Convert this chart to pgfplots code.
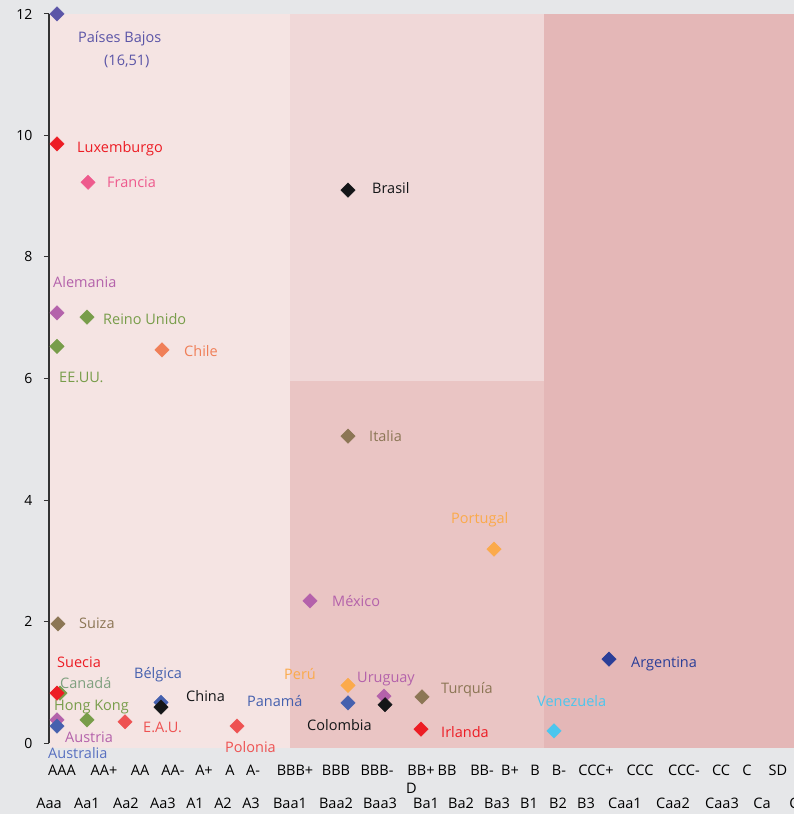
\documentclass[border=0pt]{standalone}
\usepackage{fontspec}
\setmainfont{Open Sans}
\usepackage{pgfplots}
\pgfplotsset{compat=1.18}
\definecolor{bgc}{HTML}{E6E7E9}
\definecolor{rA}{HTML}{F5E4E3}
\definecolor{rBu}{HTML}{F0D8D8}
\definecolor{rBl}{HTML}{EAC5C4}
\definecolor{rC}{HTML}{E4B7B7}
\definecolor{cNL}{HTML}{5B55A7}
\definecolor{cRed}{HTML}{ED1C24}
\definecolor{cPink}{HTML}{EE5A8D}
\definecolor{cPurp}{HTML}{B462AB}
\definecolor{cGreen}{HTML}{789D4A}
\definecolor{cCan}{HTML}{7FA07F}
\definecolor{cOrange}{HTML}{F07F58}
\definecolor{cBlack}{HTML}{141618}
\definecolor{cBrown}{HTML}{8C7655}
\definecolor{cYel}{HTML}{FBAA4B}
\definecolor{cNavy}{HTML}{2A3E98}
\definecolor{cBlue}{HTML}{4560AE}
\definecolor{cAus}{HTML}{5870C0}
\definecolor{cCyan}{HTML}{4BC6EE}
\definecolor{cRed2}{HTML}{EE5252}
\definecolor{axc}{HTML}{333333}
\pgfplotsset{pt/.style={only marks, mark=square*, mark size=5.1bp, mark options={rotate=45, draw=#1, fill=#1}, color=#1}}
\newcommand{\lab}{\fontsize{14.5bp}{16bp}\selectfont}
\begin{document}
\begin{tikzpicture}
\fill[bgc] (-49bp,-66bp) rectangle (745bp,748bp);
\begin{axis}[
  at={(0,0)}, anchor=south west,
  scale only axis, width=745bp, height=748bp,
  xmin=49, xmax=794, ymin=-0.082, ymax=12.23,
  clip=false,
  axis x line=none,
  axis y line*=left,
  y axis line style={draw=none},
  ytick={0,2,4,6,8,10,12},
  tick align=outside,
  major tick length=5bp,
  major tick style={axc, line width=1bp},
  /pgf/number format/assume math mode=true,
  yticklabel style={font=\fontsize{14bp}{16bp}\selectfont, text=black, xshift=-8bp},
]
% rating bands
\fill[rA]  (axis cs:50,-0.082) rectangle (axis cs:290,12);
\fill[rBu] (axis cs:290,5.96) rectangle (axis cs:544,12);
\fill[rBl] (axis cs:290,-0.082) rectangle (axis cs:544,5.96);
\fill[rC]  (axis cs:544,-0.082) rectangle (axis cs:794,12);
\draw[axc, line width=1.3bp] (axis cs:49,0) -- (axis cs:49,12);

% countries (x = rating position, y = value)
\addplot[pt=cNL] coordinates {(57,12.0)};
\addplot[pt=cRed] coordinates {(57,9.86)};
\addplot[pt=cPink] coordinates {(88,9.23)};
\addplot[pt=cPurp] coordinates {(57,7.08)};
\addplot[pt=cGreen] coordinates {(87,7.01)};
\addplot[pt=cGreen] coordinates {(57,6.53)};
\addplot[pt=cOrange] coordinates {(162,6.47)};
\addplot[pt=cBlack] coordinates {(348,9.10)};
\addplot[pt=cBrown] coordinates {(348,5.05)};
\addplot[pt=cYel] coordinates {(494,3.19)};
\addplot[pt=cPurp] coordinates {(310,2.34)};
\addplot[pt=cBrown] coordinates {(58,1.96)};
\addplot[pt=cNavy] coordinates {(609,1.38)};
\addplot[pt=cGreen] coordinates {(60,0.82)};
\addplot[pt=cRed] coordinates {(57,0.82)};
\addplot[pt=cBlue] coordinates {(161,0.67)};
\addplot[pt=cBlack] coordinates {(161,0.59)};
\addplot[pt=cYel] coordinates {(348,0.95)};
\addplot[pt=cBlue] coordinates {(348,0.66)};
\addplot[pt=cPurp] coordinates {(384,0.77)};
\addplot[pt=cBlack] coordinates {(385,0.63)};
\addplot[pt=cBrown] coordinates {(422,0.76)};
\addplot[pt=cRed] coordinates {(421,0.23)};
\addplot[pt=cCyan] coordinates {(554,0.20)};
\addplot[pt=cGreen] coordinates {(87,0.38)};
\addplot[pt=cRed2] coordinates {(125,0.35)};
\addplot[pt=cRed2] coordinates {(237,0.28)};
\addplot[pt=cPurp] coordinates {(57,0.38)};
\addplot[pt=cBlue] coordinates {(57,0.28)};

% labels
\begin{scope}[every node/.style={anchor=base west, inner sep=0pt, font=\lab}]
\node[text=cNL] at (axis cs:78,11.523) {Países Bajos};
\node[text=cNL] at (axis cs:104,11.144) {(16,51)};
\node[text=cRed] at (axis cs:77,9.728) {Luxemburgo};
\node[text=cPink] at (axis cs:107,9.136) {Francia};
\node[text=cPurp] at (axis cs:53,7.490) {Alemania};
\node[text=cGreen] at (axis cs:103,6.881) {Reino Unido};
\node[text=cGreen] at (axis cs:59,5.926) {EE.UU.};
\node[text=cOrange] at (axis cs:184,6.354) {Chile};
\node[text=cBlack] at (axis cs:372,9.037) {Brasil};
\node[text=cBrown] at (axis cs:369,4.955) {Italia};
\node[text=cYel] at (axis cs:451,3.605) {Portugal};
\node[text=cPurp] at (axis cs:332,2.239) {México};
\node[text=cBrown] at (axis cs:79,1.893) {Suiza};
\node[text=cNavy] at (axis cs:631,1.251) {Argentina};
\node[text=cRed] at (axis cs:57,1.251) {Suecia};
\node[text=cCan] at (axis cs:60,0.905) {Canadá};
\node[text=cBlue] at (axis cs:134,1.070) {Bélgica};
\node[text=cBlack] at (axis cs:186,0.691) {China};
\node[text=cGreen] at (axis cs:54,0.543) {Hong Kong};
\node[text=cRed2] at (axis cs:143,0.165) {E.A.U.};
\node[text=cPurp] at (axis cs:65,0.016) {Austria};
\node[text=cAus] at (axis cs:48,-0.247) {Australia};
\node[text=cRed2] at (axis cs:225,-0.148) {Polonia};
\node[text=cBlue] at (axis cs:247,0.593) {Panamá};
\node[text=cYel] at (axis cs:284,1.053) {Perú};
\node[text=cPurp] at (axis cs:357,1.004) {Uruguay};
\node[text=cBrown] at (axis cs:441,0.807) {Turquía};
\node[text=cBlack] at (axis cs:307,0.198) {Colombia};
\node[text=cRed] at (axis cs:441,0.099) {Irlanda};
\node[text=cCyan] at (axis cs:537,0.593) {Venezuela};
\end{scope}

% rating scale labels
\begin{scope}[every node/.style={anchor=base, inner sep=0pt, font=\lab, text=black}]
\node at (axis cs:62,-0.527) {AAA};
\node at (axis cs:104,-0.527) {AA+};
\node at (axis cs:140,-0.527) {AA};
\node at (axis cs:173,-0.527) {AA-};
\node at (axis cs:204,-0.527) {A+};
\node at (axis cs:230,-0.527) {A};
\node at (axis cs:253,-0.527) {A-};
\node at (axis cs:295,-0.527) {BBB+};
\node at (axis cs:336,-0.527) {BBB};
\node at (axis cs:377,-0.527) {BBB-};
\node at (axis cs:421,-0.527) {BB+};
\node[anchor=base west] at (axis cs:406,-0.823) {D};
\node at (axis cs:447,-0.527) {BB};
\node at (axis cs:482,-0.527) {BB-};
\node at (axis cs:510,-0.527) {B+};
\node at (axis cs:535,-0.527) {B};
\node at (axis cs:559,-0.527) {B-};
\node at (axis cs:596,-0.527) {CCC+};
\node at (axis cs:640,-0.527) {CCC};
\node at (axis cs:684,-0.527) {CCC-};
\node at (axis cs:721,-0.527) {CC};
\node at (axis cs:747,-0.527) {C};
\node at (axis cs:778,-0.527) {SD};
\node at (axis cs:49,-1.070) {Aaa};
\node at (axis cs:87,-1.070) {Aa1};
\node at (axis cs:126,-1.070) {Aa2};
\node at (axis cs:163,-1.070) {Aa3};
\node at (axis cs:195,-1.070) {A1};
\node at (axis cs:223,-1.070) {A2};
\node at (axis cs:251,-1.070) {A3};
\node at (axis cs:290,-1.070) {Baa1};
\node at (axis cs:336,-1.070) {Baa2};
\node at (axis cs:380,-1.070) {Baa3};
\node at (axis cs:426,-1.070) {Ba1};
\node at (axis cs:461,-1.070) {Ba2};
\node at (axis cs:497,-1.070) {Ba3};
\node at (axis cs:529,-1.070) {B1};
\node at (axis cs:558,-1.070) {B2};
\node at (axis cs:586,-1.070) {B3};
\node at (axis cs:625,-1.070) {Caa1};
\node at (axis cs:673,-1.070) {Caa2};
\node at (axis cs:722,-1.070) {Caa3};
\node at (axis cs:762,-1.070) {Ca};
\node at (axis cs:794,-1.070) {C};
\end{scope}
\end{axis}
\pgfresetboundingbox
\path[use as bounding box] (-49bp,-66bp) rectangle (745bp,748bp);
\end{tikzpicture}
\end{document}
